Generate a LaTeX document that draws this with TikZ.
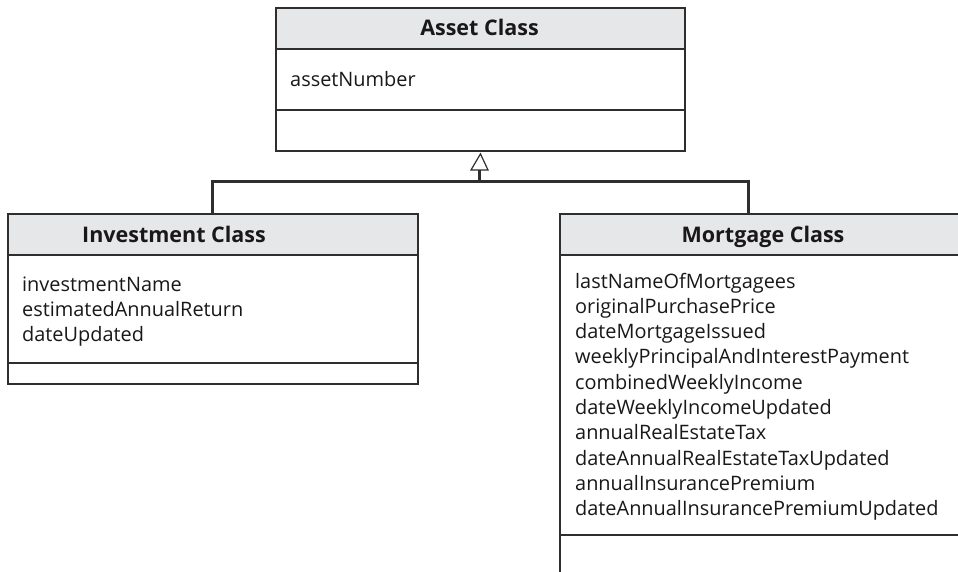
\documentclass[tikz,border=0pt]{standalone}
\usepackage{fontspec}
\setmainfont{Open Sans}
\usetikzlibrary{calc}
\definecolor{hdrgray}{HTML}{E6E7E8}
\definecolor{ln}{HTML}{2E2E2E}
\definecolor{txt}{HTML}{1A1718}
\begin{document}
\begin{tikzpicture}[x=1pt,y=-1pt,
  comp/.style={draw=ln, line width=1.9pt, inner sep=0pt, anchor=north west},
  hdrbox/.style={comp, fill=hdrgray},
  hdrtext/.style={font=\fontsize{21.5}{24}\selectfont\bfseries, text=txt, inner sep=0pt, anchor=base},
  attr/.style={font=\fontsize{19.9}{25}\selectfont, text=txt, inner sep=0pt, anchor=base west},
  conn/.style={draw=ln, line width=3pt},
  tri/.style={draw=ln, fill=white, line width=1.2pt, line join=miter},
]
\useasboundingbox (0,0) rectangle (958,572);
\clip (0,0) rectangle (958,572);
% Asset Class
\node[hdrbox, minimum width=409pt, minimum height=41pt] (assetH) at (275,7) {};
\node[comp, minimum width=409pt, minimum height=61pt] (assetA) at (275,48) {};
\node[comp, minimum width=409pt, minimum height=41pt] (assetO) at (275,109) {};
\node[hdrtext] (assetT) at (479.5,36) {Asset Class};
\node[attr] (a1) at (290,87) {assetNumber};
% Investment Class
\node[hdrbox, minimum width=410pt, minimum height=41pt] (invH) at (7,213) {};
\node[comp, minimum width=410pt, minimum height=108pt] (invA) at (7,254) {};
\node[comp, minimum width=410pt, minimum height=21pt] (invO) at (7,362) {};
\node[hdrtext] (invT) at (174,242) {Investment Class};
\foreach \t [count=\i] in {investmentName,estimatedAnnualReturn,dateUpdated}
  \node[attr] (i\i) at (22,{291+25.3*(\i-1)}) {\t};
% Mortgage Class
\node[hdrbox, minimum width=408pt, minimum height=41pt] (mortH) at (559,213) {};
\node[comp, minimum width=408pt, minimum height=280pt] (mortA) at (559,254) {};
\node[comp, minimum width=408pt, minimum height=66pt] (mortO) at (559,534) {};
\node[hdrtext] (mortT) at (763,242) {Mortgage Class};
\foreach \t [count=\i] in {lastNameOfMortgagees,originalPurchasePrice,dateMortgageIssued,weeklyPrincipalAndInterestPayment,combinedWeeklyIncome,dateWeeklyIncomeUpdated,annualRealEstateTax,dateAnnualRealEstateTaxUpdated,annualInsurancePremium,dateAnnualInsurancePremiumUpdated}
  \node[attr] (m\i) at (575,{288+25.3*(\i-1)}) {\t};
% Generalization connector
\coordinate (bar) at (479.5,182);
\coordinate (tb) at (479.5,170);
\draw[conn] (invH.north) |- (bar) -| ([xshift=-15pt]mortH.north);
\draw[conn] (bar) -- (tb);
\draw[tri] ($(tb)+(-8.5,0)$) -- ([yshift=-2pt]assetO.south) -- ($(tb)+(8.5,0)$) -- cycle;
\end{tikzpicture}
\end{document}
